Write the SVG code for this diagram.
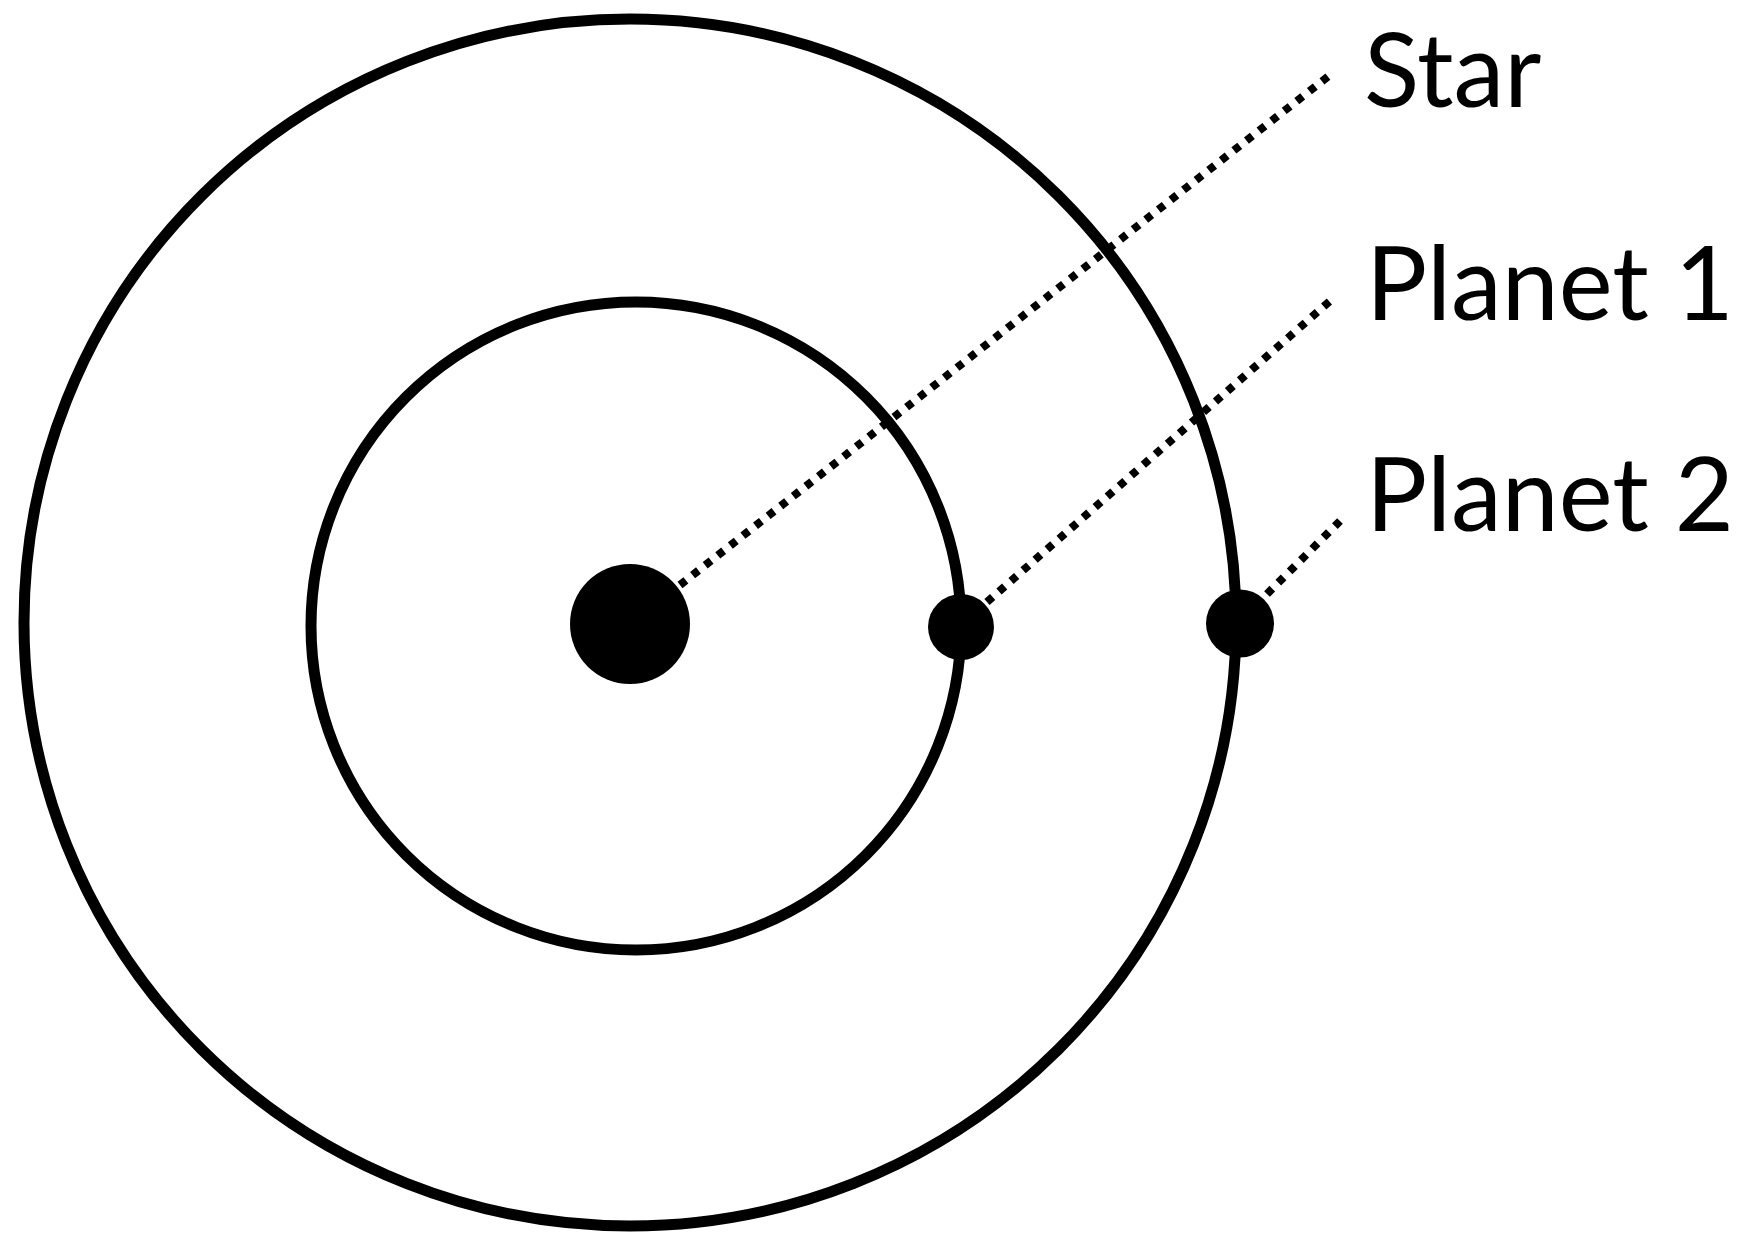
<svg xmlns="http://www.w3.org/2000/svg" width="1739" height="1233" viewBox="0 0 1739 1233">
<style>
.orbit{fill:none;stroke:#000;stroke-width:11}
.body{fill:#000}
.lead{fill:none;stroke:#000;stroke-width:8;stroke-dasharray:7.5 8.5;stroke-linecap:butt}
.label{font-family:Lato,"Open Sans","Liberation Sans",sans-serif;font-size:102px;fill:#000}
</style>
<rect width="1739" height="1233" fill="#fff"/>
<g id="outer-orbit"><ellipse class="orbit" cx="630" cy="622.5" rx="606" ry="603.5"/></g>
<g id="inner-orbit"><ellipse class="orbit" cx="636" cy="626" rx="325" ry="324"/></g>
<g id="connectors">
<line class="lead" x1="680" y1="585" x2="1330" y2="75"/>
<line class="lead" x1="987" y1="602" x2="1330" y2="301"/>
<line class="lead" x1="1267" y1="594" x2="1340" y2="521"/>
</g>
<g id="star"><circle class="body" cx="630" cy="624" r="60"/></g>
<g id="planet1"><circle class="body" cx="961" cy="627" r="33"/></g>
<g id="planet2"><circle class="body" cx="1240" cy="623.5" r="34"/></g>
<g id="label-star"><text class="label" x="1364" y="107">Star</text></g>
<g id="label-planet1"><text class="label" x="1366" y="320">Planet 1</text></g>
<g id="label-planet2"><text class="label" x="1366" y="531">Planet 2</text></g>
</svg>
